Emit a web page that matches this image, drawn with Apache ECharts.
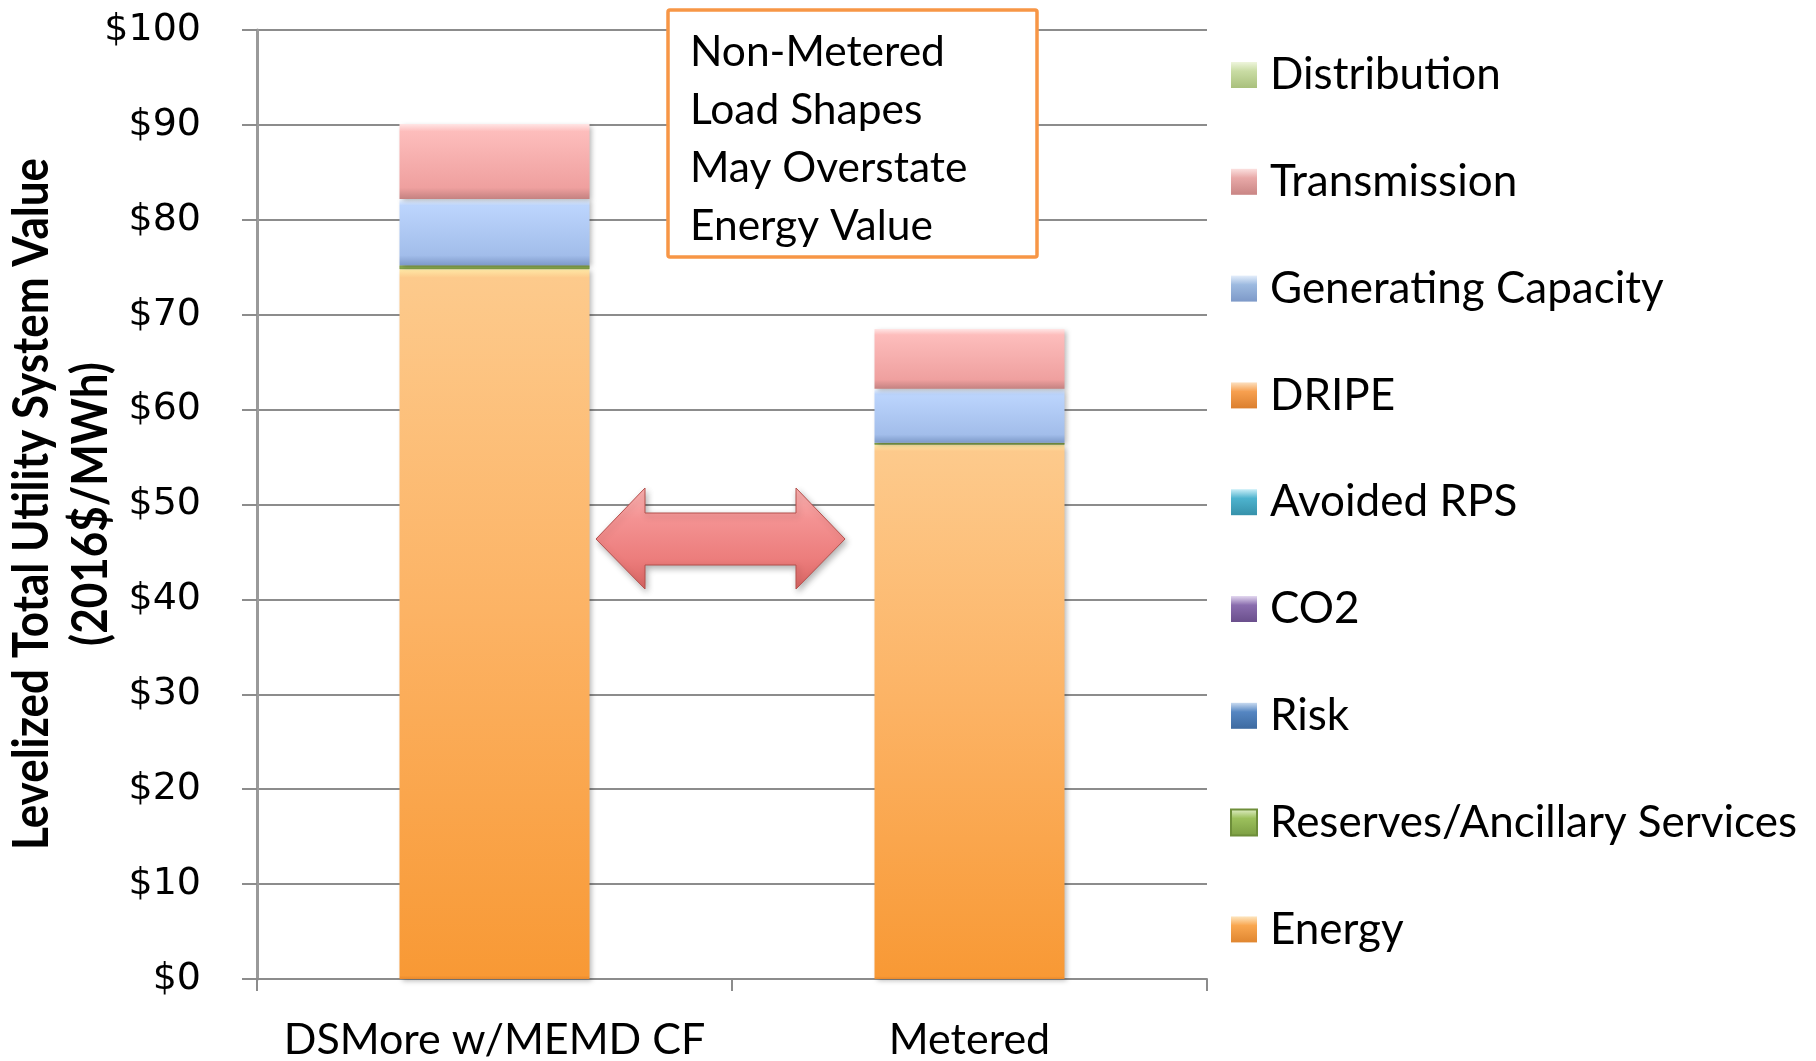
<!DOCTYPE html>
<html>
<head>
<meta charset="utf-8">
<script src="https://cdn.jsdelivr.net/npm/echarts@6/dist/echarts.min.js"></script>
<style>
  html, body { margin: 0; padding: 0; background: #fff; }
  #main { width: 1816px; height: 1061px; }
</style>
</head>
<body>
<div id="main"></div>
<script>
// values ($/MWh)
const categories = ['DSMore w/MEMD CF', 'Metered'];
const energy = [74.8, 56.3];
const reserves = [0.4, 0.2];
const risk = [0, 0];
const co2 = [0, 0];
const avoidedRps = [0, 0];
const dripe = [0, 0];
const genCapacity = [7.0, 5.7];
const transmission = [7.9, 6.3];
const distribution = [0, 0];
const yTicks = [0, 10, 20, 30, 40, 50, 60, 70, 80, 90, 100];

const legendOrder = ['Distribution', 'Transmission', 'Generating Capacity', 'DRIPE',
  'Avoided RPS', 'CO2', 'Risk', 'Reserves/Ancillary Services', 'Energy'];

const FONT = 'Lato, "Open Sans", sans-serif';

function vgrad(stops) {
  return new echarts.graphic.LinearGradient(0, 0, 0, 1,
    stops.map(s => ({ offset: s[0], color: s[1] })));
}
// little bevelled squares for the legend
function swatch(light, base, dark) {
  return vgrad([[0, light], [0.35, base], [1, dark]]);
}

const barShadow = { shadowBlur: 5, shadowOffsetX: 2, shadowOffsetY: 2, shadowColor: 'rgba(0,0,0,0.28)' };

function seg(name, data, color, extra) {
  return {
    name: name,
    type: 'bar',
    stack: 'total',
    barWidth: '40%',
    data: data,
    itemStyle: Object.assign({ color: color }, extra || {}),
    emphasis: { disabled: true }
  };
}

const series = [
  seg('Energy', energy, vgrad([[0, '#FFE9A6'], [0.012, '#FDCA8C'], [0.5, '#FCB263'], [0.995, '#F89935'], [1, '#E8892C']]), barShadow),
  seg('Reserves/Ancillary Services', reserves, '#8AAA4E', { borderColor: '#6E8E3A', borderWidth: 0.5 }),
  seg('Risk', risk, '#4F81BD'),
  seg('CO2', co2, '#8064A2'),
  seg('Avoided RPS', avoidedRps, '#4BACC6'),
  seg('DRIPE', dripe, '#F79646'),
  seg('Generating Capacity', genCapacity, vgrad([[0, '#F4F9FF'], [0.1, '#BCD5FD'], [0.85, '#A2BDEA'], [1, '#7D99C8']]), barShadow),
  seg('Transmission', transmission, vgrad([[0, '#FFE6E6'], [0.1, '#FDBDBC'], [0.85, '#EFA09F'], [1, '#C48281']]), barShadow),
  seg('Distribution', distribution, '#C3D69B')
];

const legendColors = {
  'Distribution': swatch('#EEF5DC', '#C9DCA4', '#A9C07C'),
  'Transmission': swatch('#FBE0DF', '#E8A9A8', '#C98584'),
  'Generating Capacity': swatch('#E4EEFB', '#9DBAE0', '#7D99C8'),
  'DRIPE': swatch('#FCE0C0', '#F7A050', '#DB7F2E'),
  'Avoided RPS': swatch('#C9EEF7', '#4EB3CE', '#3691AA'),
  'CO2': swatch('#E3D8F0', '#8A6DAE', '#6A4F8C'),
  'Risk': swatch('#C8DAF0', '#5586C2', '#3D6AA0'),
  'Reserves/Ancillary Services': swatch('#E4F0CC', '#9CC05C', '#7B9D42'),
  'Energy': swatch('#FDE6C0', '#F9A750', '#E08630')
};

const chart = echarts.init(document.getElementById('main'));

chart.setOption({
  backgroundColor: '#fff',
  animation: false,
  grid: { left: 257, right: 609, top: 30, bottom: 82, containLabel: false, outerBoundsMode: 'none' },
  legend: {
    orient: 'vertical',
    left: 1230,
    top: 50,
    padding: 0,
    itemWidth: 26,
    itemHeight: 26,
    itemGap: 56.8,
    icon: 'rect',
    selectedMode: false,
    data: legendOrder.map(n => ({ name: n, itemStyle: { color: legendColors[n] } })),
    textStyle: { fontFamily: FONT, fontSize: 44, lineHeight: 50, color: '#000', padding: [0, 0, 0, 8] }
  },
  xAxis: {
    type: 'category',
    data: categories,
    axisLine: { lineStyle: { color: '#8c8c8c', width: 2 } },
    axisTick: { show: true, length: 12, lineStyle: { color: '#8c8c8c', width: 2 } },
    axisLabel: { interval: 0, hideOverlap: false, fontFamily: FONT, fontSize: 43, color: '#000', margin: 40 }
  },
  yAxis: {
    type: 'value',
    min: 0,
    max: 100,
    interval: 10,
    axisLine: { show: true, lineStyle: { color: '#9a9a9a', width: 3 } },
    axisTick: { show: true, length: 15, lineStyle: { color: '#8c8c8c', width: 2 } },
    splitLine: { lineStyle: { color: '#8c8c8c', width: 2 } },
    axisLabel: {
      fontFamily: '"DejaVu Sans", sans-serif',
      fontSize: 38,
      color: '#000',
      margin: 56,
      formatter: v => yTicks.indexOf(v) >= 0 ? '$' + v : ''
    }
  },
  series: series,
  graphic: [
    // y axis title, bold and condensed
    {
      type: 'text', x: 32, y: 504, rotation: Math.PI / 2, scaleX: 0.88, z: 10,
      style: { text: 'Levelized Total Utility System Value', font: 'bold 50px ' + FONT, fill: '#000', textAlign: 'center', textVerticalAlign: 'middle' }
    },
    {
      type: 'text', x: 91, y: 504, rotation: Math.PI / 2, scaleX: 0.88, z: 10,
      style: { text: '(2016$/MWh)', font: 'bold 50px ' + FONT, fill: '#000', textAlign: 'center', textVerticalAlign: 'middle' }
    },
    // note box
    {
      type: 'rect', z: 20, shape: { x: 668, y: 10, width: 369, height: 247, r: 2 },
      style: { fill: '#fff', stroke: '#F79646', lineWidth: 3.5 }
    },
    {
      type: 'text', z: 21, x: 690, y: 23,
      style: {
        text: 'Non-Metered\nLoad Shapes\nMay Overstate\nEnergy Value',
        font: '42.5px ' + FONT, lineHeight: 58, fill: '#000', textVerticalAlign: 'top'
      }
    },
    // double headed arrow between the bars
    {
      type: 'polygon', z: 20,
      shape: {
        points: [[596, 539], [645, 488], [645, 513], [796, 513], [796, 488], [845, 539],
          [796, 589], [796, 565], [645, 565], [645, 589]]
      },
      style: {
        fill: vgrad([[0, '#FBB3B2'], [0.3, '#F49393'], [0.7, '#EC7D7C'], [1, '#D86462']]),
        stroke: '#B5504D', lineWidth: 1,
        shadowBlur: 6, shadowOffsetX: 2, shadowOffsetY: 3, shadowColor: 'rgba(0,0,0,0.3)'
      }
    }
  ]
});
</script>
</body>
</html>
